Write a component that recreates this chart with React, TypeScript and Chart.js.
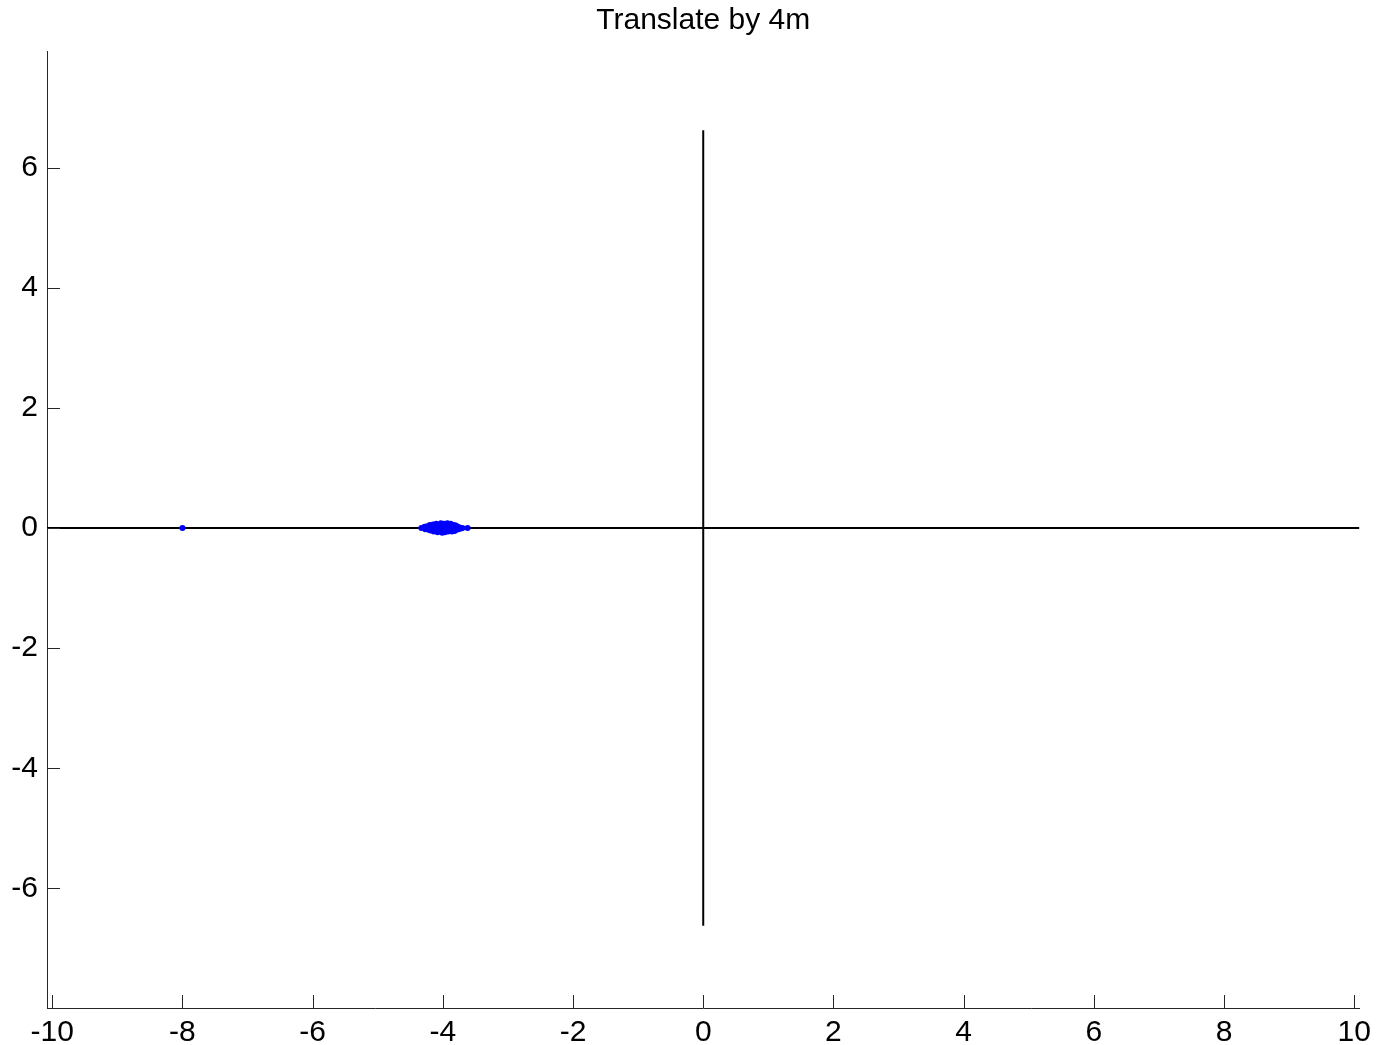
import React, { useEffect, useRef } from "react";
import { Chart, registerables } from "chart.js";

Chart.register(...registerables);

const titleText = "Translate by 4m";
const xTickValues = [-10, -8, -6, -4, -2, 0, 2, 4, 6, 8, 10];
const yTickValues = [-6, -4, -2, 0, 2, 4, 6];
const xLimits = [-10.08, 10.08];
const yLimits = [-7.99, 7.94];

const horizontalAxisLine = [
  { x: -10.08, y: 0 },
  { x: 10.08, y: 0 },
];
const verticalAxisLine = [
  { x: 0, y: -6.62 },
  { x: 0, y: 6.62 },
];

const clusterX = [
  -4.33, -4.28, -4.27, -4.24, -4.22, -4.2, -4.19, -4.17, -4.15, -4.14, -4.12, -4.11, -4.1, -4.08,
  -4.07, -4.05, -4.04, -4.03, -4.01, -4.0, -3.99, -3.98, -3.97, -3.96, -3.95, -3.93, -3.92, -3.9,
  -3.89, -3.88, -3.86, -3.85, -3.83, -3.82, -3.8, -3.79, -3.77, -3.76, -3.74, -3.72, -3.7, -3.62,
  -8.0,
];
const clusterY = [
  0.0, 0.02, -0.02, 0.03, -0.03, 0.05, -0.04, 0.01, 0.06, -0.06, 0.03, -0.02, 0.07, -0.07,
  0.0, 0.05, -0.05, 0.08, -0.08, 0.02, -0.03, 0.07, -0.07, 0.04, -0.01, 0.08, -0.06, 0.03,
  -0.04, 0.07, -0.06, 0.01, 0.05, -0.05, 0.04, -0.03, 0.02, -0.02, 0.01, -0.01, 0.0, 0.0,
  0.0,
];

const FONT = "'Liberation Sans', Arial, Helvetica, sans-serif";
const AXIS_COLOR = "#262626";
const FONT_SIZE = 30;

const inwardTicks = {
  id: "inwardTicks",
  afterDraw(chart: any) {
    const { ctx, chartArea, scales } = chart;
    const len = 13;
    ctx.save();
    ctx.strokeStyle = AXIS_COLOR;
    ctx.lineWidth = 1;
    ctx.beginPath();
    xTickValues.forEach((v) => {
      const px = Math.round(scales.x.getPixelForValue(v)) + 0.5;
      ctx.moveTo(px, chartArea.bottom);
      ctx.lineTo(px, chartArea.bottom - len);
    });
    yTickValues.forEach((v) => {
      const py = Math.round(scales.y.getPixelForValue(v)) + 0.5;
      ctx.moveTo(chartArea.left, py);
      ctx.lineTo(chartArea.left + len, py);
    });
    ctx.stroke();
    ctx.restore();
  },
};

const centeredTitle = {
  id: "centeredTitle",
  afterDraw(chart: any) {
    const { ctx, chartArea } = chart;
    ctx.save();
    ctx.fillStyle = "#000000";
    ctx.font = `normal ${FONT_SIZE}px ${FONT}`;
    ctx.textAlign = "center";
    ctx.textBaseline = "middle";
    ctx.fillText(titleText, (chartArea.left + chartArea.right) / 2, 21);
    ctx.restore();
  },
};

export default function App() {
  const ref = useRef<HTMLCanvasElement | null>(null);

  useEffect(() => {
    document.body.style.margin = "0";
    if (!ref.current) return;
    const points = clusterX.map((x, i) => ({ x, y: clusterY[i] }));
    const chart = new Chart(ref.current, {
      type: "scatter",
      data: {
        datasets: [
          {
            label: "points",
            data: points,
            showLine: false,
            pointRadius: 3,
            pointBackgroundColor: "#0000ff",
            pointBorderWidth: 0,
            pointStyle: "circle",
            order: 0,
          },
          {
            label: "h",
            data: horizontalAxisLine,
            showLine: true,
            borderColor: "#000000",
            borderWidth: 2,
            pointRadius: 0,
            order: 1,
          },
          {
            label: "v",
            data: verticalAxisLine,
            showLine: true,
            borderColor: "#000000",
            borderWidth: 2,
            pointRadius: 0,
            order: 1,
          },
        ],
      },
      options: {
        animation: false,
        responsive: true,
        maintainAspectRatio: false,
        layout: { padding: { left: 0, right: 17, top: 51, bottom: 0 } },
        plugins: {
          legend: { display: false },
          tooltip: { enabled: false },
          title: { display: false },
        },
        scales: {
          x: {
            type: "linear",
            min: xLimits[0],
            max: xLimits[1],
            afterBuildTicks: (scale: any) => {
              scale.ticks = xTickValues.map((value) => ({ value }));
            },
            afterFit: (scale: any) => {
              scale.height = 37;
            },
            grid: { display: true, drawOnChartArea: false, drawTicks: false },
            border: { display: true, color: AXIS_COLOR, width: 1 },
            ticks: {
              color: "#000000",
              font: { family: FONT, size: FONT_SIZE },
              padding: 7,
              maxRotation: 0,
              autoSkip: false,
            },
          },
          y: {
            type: "linear",
            min: yLimits[0],
            max: yLimits[1],
            afterBuildTicks: (scale: any) => {
              scale.ticks = yTickValues.map((value) => ({ value }));
            },
            afterFit: (scale: any) => {
              scale.width = 47;
            },
            grid: { display: true, drawOnChartArea: false, drawTicks: false },
            border: { display: true, color: AXIS_COLOR, width: 1 },
            ticks: {
              color: "#000000",
              font: { family: FONT, size: FONT_SIZE },
              padding: 9,
              autoSkip: false,
            },
          },
        },
      },
      plugins: [inwardTicks, centeredTitle],
    });
    return () => chart.destroy();
  }, []);

  return (
    <div style={{ width: 1378, height: 1045, position: "relative", background: "#ffffff" }}>
      <canvas ref={ref} />
    </div>
  );
}
